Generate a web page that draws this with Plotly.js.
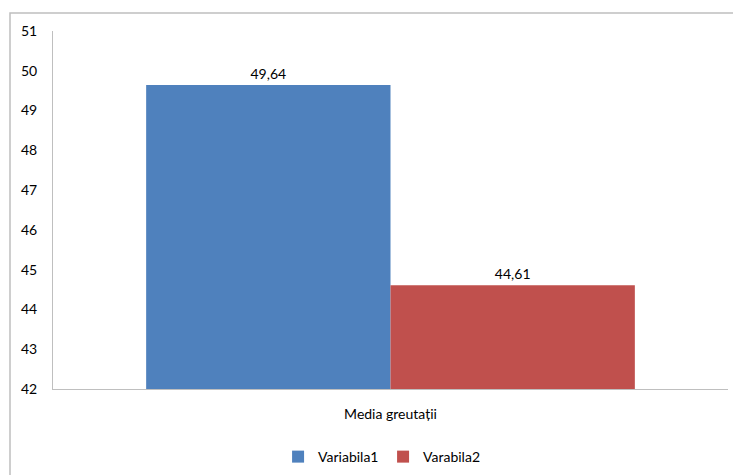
<!DOCTYPE html>
<html>
<head>
<meta charset="utf-8">
<script src="https://cdn.plot.ly/plotly-3.0.1.min.js"></script>
<style>html,body{margin:0;padding:0;background:#fff;}#chart{width:733px;height:475px;}</style>
</head>
<body>
<div id="chart"></div>
<script>
const categories = ['Media greutații'];
const seriesNames = ['Variabila1', 'Varabila2'];
const variabila1 = [49.64];
const varabila2 = [44.61];
const yTicks = [42, 43, 44, 45, 46, 47, 48, 49, 50, 51];

const colors = ['#4F81BD', '#C0504D'];
const values = [variabila1, varabila2];
const font = {family: 'Lato, "Open Sans", sans-serif', size: 14, color: '#000'};

const traces = values.map((v, i) => ({
  type: 'bar',
  name: seriesNames[i],
  x: categories,
  y: v,
  marker: {color: colors[i]},
  text: v.map(n => n.toFixed(2).replace('.', ',')),
  textposition: 'outside',
  textfont: font,
  cliponaxis: false,
  hoverinfo: 'none'
}));

const layout = {
  width: 733, height: 475,
  margin: {l: 53, r: 5, t: 31, b: 86, autoexpand: false},
  paper_bgcolor: '#fff', plot_bgcolor: '#fff',
  barmode: 'group',
  bargap: 0.276,
  bargroupgap: 0,
  separators: ',.',
  font: font,
  showlegend: true,
  legend: {orientation: 'h', x: 0.489, xanchor: 'center', y: -0.19, yanchor: 'middle', font: font,
           itemwidth: 30, entrywidth: 60, entrywidthmode: 'pixels'},
  xaxis: {
    showline: true, linecolor: '#BFBFBF', linewidth: 1,
    ticks: '', tickfont: font, showgrid: false, zeroline: false,
    ticklabelstandoff: 12
  },
  yaxis: {
    range: [42, 51], tickvals: yTicks, ticktext: yTicks.map(String),
    showline: true, linecolor: '#BFBFBF', linewidth: 1,
    ticks: '', showgrid: false, zeroline: false, tickfont: font,
    ticklabelstandoff: 12
  },
  shapes: [{
    type: 'rect', xref: 'paper', yref: 'paper',
    x0: (10 - 53) / 675, x1: 1.05,
    y0: -0.3, y1: 1 + (31 - 13) / 358,
    line: {color: '#BFBFBF', width: 1.5}, fillcolor: 'rgba(0,0,0,0)', layer: 'below'
  }]
};

Plotly.newPlot('chart', traces, layout, {staticPlot: true});
</script>
</body>
</html>
